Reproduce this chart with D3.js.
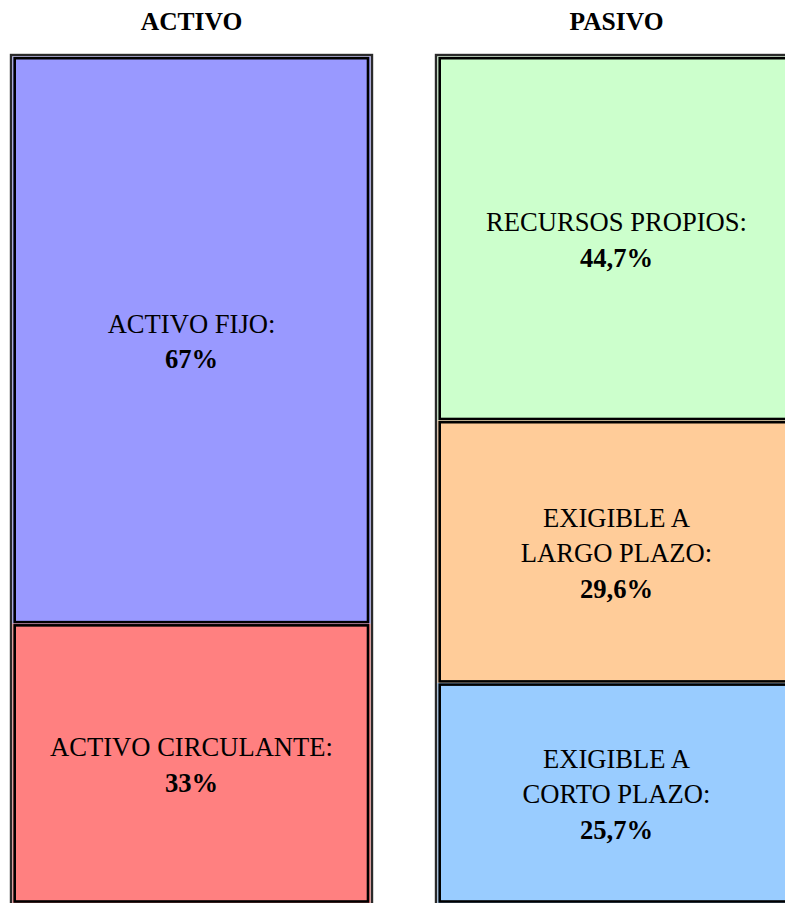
<!DOCTYPE html>
<html><head><meta charset="utf-8">
<script src="https://cdn.jsdelivr.net/npm/d3@7"></script>
<style>body{margin:0;background:#fff}svg{display:block}</style>
</head><body>
<script>
// ---- data ----
const columns = ["ACTIVO", "PASIVO"];
const activoNames = [["ACTIVO FIJO:"], ["ACTIVO CIRCULANTE:"]];
const activoPct = ["67%", "33%"];
const activoShares = [67, 33];            // drawn heights (share of column)
const pasivoNames = [["RECURSOS PROPIOS:"], ["EXIGIBLE A", "LARGO PLAZO:"], ["EXIGIBLE A", "CORTO PLAZO:"]];
const pasivoPct = ["44,7%", "29,6%", "25,7%"];
const pasivoShares = [43.0, 31.0, 26.0];  // heights
const activoColors = ["#9999ff", "#ff8080"];
const pasivoColors = ["#ccffcc", "#ffcc99", "#99ccff"];

const W = 785, H = 903;
const svg = d3.select("body").append("svg").attr("width", W).attr("height", H);

const x = d3.scaleBand().domain(columns).range([10, 798]).paddingInner(62 / 425).paddingOuter(0);
const y = d3.scaleLinear().domain([0, 100]).range([56.5, 903]);
const font = "'Liberation Serif','Times New Roman',serif";

const colData = {
  ACTIVO: { shares: activoShares, names: activoNames, pct: activoPct, colors: activoColors },
  PASIVO: { shares: pasivoShares, names: pasivoNames, pct: pasivoPct, colors: pasivoColors }
};

columns.forEach(col => {
  const d = colData[col];
  const bx = x(col), bw = x.bandwidth();
  // title
  svg.append("text").attr("x", bx + bw / 2).attr("y", 29.5).attr("text-anchor", "middle")
    .attr("font-family", font).attr("font-weight", "bold").attr("font-size", 25.5).text(col);

  let cum = 0;
  const segs = d.shares.map((v, i) => {
    const s = { y0: y(cum), y1: y(cum + v), i };
    cum += v;
    return s;
  });
  const sx0 = bx + 2.5, sx1 = bx + bw - 2.5;
  const g = svg.append("g");
  segs.forEach(s => {
    g.append("rect").attr("x", sx0).attr("y", s.y0).attr("width", sx1 - sx0).attr("height", s.y1 - s.y0)
      .attr("fill", d.colors[s.i]);
    g.append("rect").attr("x", sx0 + 2.2).attr("y", s.y0 + 1.7).attr("width", sx1 - sx0 - 4.7).attr("height", s.y1 - s.y0 - 3.2)
      .attr("fill", "none").attr("stroke", "#000").attr("stroke-width", 2.6);
    const lines = d.names[s.i].concat([d.pct[s.i]]);
    const n = lines.length, L = 35.5, fs = 26.6;
    const cy = (s.y0 + s.y1) / 2 + 1.5;
    lines.forEach((t, k) => {
      g.append("text").attr("x", bx + bw / 2).attr("y", cy + (k - (n - 1) / 2) * L + 0.34 * fs)
        .attr("text-anchor", "middle").attr("font-family", font).attr("font-size", fs)
        .attr("font-weight", k === n - 1 ? "bold" : "normal").attr("fill", "#000").text(t);
    });
  });
  // column outline
  svg.append("rect").attr("x", bx + 1).attr("y", 55).attr("width", bw - 2).attr("height", 860)
    .attr("fill", "none").attr("stroke", "#2a2a2a").attr("stroke-width", 2.4);
});
</script>
</body></html>
